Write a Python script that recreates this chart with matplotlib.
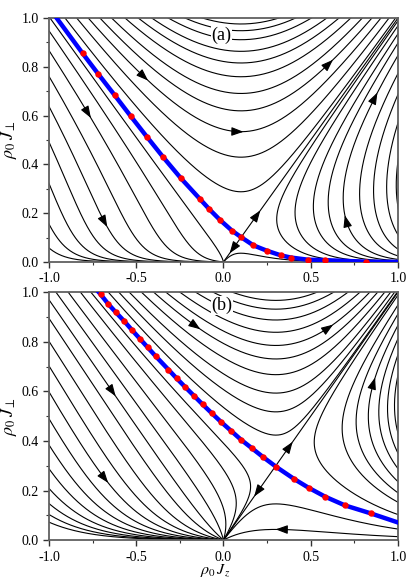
import numpy as np
import matplotlib
matplotlib.use("Agg")
import matplotlib.pyplot as plt
from matplotlib.ticker import MultipleLocator

plt.rcParams["font.family"] = ["Liberation Serif", "DejaVu Serif"]
plt.rcParams["mathtext.fontset"] = "stix"

# RG 方程的参数 (由对角线上不动点的位置读出)
r_a = 0.1
r_b = 0.3

# 蓝线 (分界线) 与红点, 面板 (a)
red_a_x = [-0.807, -0.717, -0.624, -0.532, -0.440, -0.345, -0.244, -0.135, -0.081,
           -0.020, 0.049, 0.102, 0.171, 0.248, 0.328, 0.385, 0.484, 0.583, 0.815]
red_a_y = [0.855, 0.770, 0.684, 0.598, 0.514, 0.429, 0.343, 0.258, 0.216,
           0.172, 0.128, 0.101, 0.068, 0.046, 0.027, 0.018, 0.009, 0.007, 0.001]
blue_a_x = [-0.956] + red_a_x + [1.0]
blue_a_y = [1.0] + red_a_y + [0.0]

# 面板 (b)
red_b_x = [-0.704, -0.660, -0.616, -0.570, -0.524, -0.479, -0.434, -0.389, -0.316,
           -0.268, -0.219, -0.169, -0.119, -0.066, -0.013, 0.043, 0.102, 0.162,
           0.225, 0.301, 0.406, 0.488, 0.583, 0.696, 0.843]
red_b_y = [0.991, 0.952, 0.918, 0.884, 0.847, 0.812, 0.777, 0.742, 0.688,
           0.652, 0.617, 0.582, 0.547, 0.511, 0.476, 0.441, 0.404, 0.371,
           0.336, 0.296, 0.246, 0.211, 0.175, 0.140, 0.108]
blue_b_x = [-0.715] + red_b_x + [1.0]
blue_b_y = [1.0] + red_b_y + [0.071]

# 流线的起点: 上边缘 (J_perp = 1) 的交点, 右侧 U 形线的拐点, 以及其他内部点
top_a = [-1.60, -1.52, -1.44, -1.36, -1.28, -1.20, -1.12, -1.05, -0.994, -0.908,
         -0.841, -0.775, -0.708, -0.641, -0.564, -0.488, -0.411, -0.316, -0.22, -0.12]
nose_a = [0.305, 0.41, 0.515, 0.60, 0.686, 0.78, 0.86, 0.935, 0.99]
inner_a = [(0.12, 0.035)]

top_b = [-1.90, -1.82, -1.74, -1.66, -1.58, -1.50, -1.42, -1.34, -1.26, -1.18,
         -1.10, -1.03, -0.96, -0.89, -0.82, -0.76, -0.66, -0.60, -0.54, -0.47,
         -0.40, -0.33, -0.25, -0.16, -0.06, 0.05]
nose_b = [0.52, 0.68, 0.76, 0.83, 0.89, 0.94, 0.98]
inner_b = [(0.27, 0.145), (0.32, 0.043)]

# 箭头位置
arrows_a = [(-0.456, 0.749), (-0.765, 0.602), (-0.721, 0.145), (0.601, 0.824),
            (0.091, 0.516), (0.874, 0.684), (0.706, 0.179), (0.205, 0.200),
            (0.047, 0.047)]
arrows_b = [(-0.144, 0.860), (-0.603, 0.598), (-0.673, 0.242), (0.597, 0.867),
            (0.862, 0.645), (0.385, 0.385), (0.186, 0.186), (0.324, 0.043)]


def rg_flow(p, r):
    """RG 方程: dJz/dl = -r Jz + Jp^2, dJp/dl = -r Jp + Jz Jp"""
    jz, jp = p
    return np.array([-r * jz + jp ** 2, -r * jp + jz * jp])


def trace(p0, r, sign, ds=0.003, nmax=5000):
    """从 p0 出发沿流 (sign=+1) 或逆流 (sign=-1) 积分"""
    def v(q):
        f = sign * rg_flow(q, r)
        n = np.hypot(f[0], f[1])
        return f / n if n > 1e-12 else f * 0

    p = np.array(p0, float)
    pts = [p.copy()]
    for _ in range(nmax):
        k1 = v(p)
        k2 = v(p + 0.5 * ds * k1)
        k3 = v(p + 0.5 * ds * k2)
        k4 = v(p + ds * k3)
        p = p + ds / 6 * (k1 + 2 * k2 + 2 * k3 + k4)
        pts.append(p.copy())
        if p[0] < -2.5 or p[0] > 1.3 or p[1] < -0.001 or p[1] > 1.3:
            break
        if np.hypot(*p) < 0.002 or np.hypot(p[0] - r, p[1] - r) < 0.002:
            break
    return np.array(pts)


def draw_line(ax, p0, r):
    back = trace(p0, r, -1)[::-1]
    fwd = trace(p0, r, 1)
    pts = np.vstack([back, fwd[1:]])
    ax.plot(pts[:, 0], pts[:, 1], color="k", lw=0.8)
    return pts


def add_arrow(ax, x, y, r, lines):
    """把箭头放到最近的流线上, 方向取流的方向"""
    best = None
    for pts in lines:
        d2 = ((pts[:, 0] - x) / 2.0) ** 2 + (pts[:, 1] - y) ** 2
        i = np.argmin(d2)
        if best is None or d2[i] < best[0]:
            best = (d2[i], pts[i])
    px, py = best[1]
    f = rg_flow((px, py), r)
    d = f / np.hypot(f[0] / 2.0, f[1])
    step = 0.012
    ax.annotate("", xy=(px + step * d[0], py + step * d[1]), xytext=(px, py),
                arrowprops=dict(arrowstyle="-|>,head_length=0.6,head_width=0.22",
                                mutation_scale=12, color="k", lw=0.8,
                                shrinkA=0, shrinkB=0))


def draw_panel(ax, r, tops, noses, inners, bx, by, rx, ry, arrows, label, ly):
    lines = []
    for x0 in tops:
        lines.append(draw_line(ax, (x0, 1.0), r))
    for x0 in noses:
        lines.append(draw_line(ax, (x0, np.sqrt(r * x0)), r))
    for p0 in inners:
        lines.append(draw_line(ax, p0, r))
    # 对角线 (不稳定方向)
    for e in (0.003, -0.003):
        pts = trace((r + e, r + e), r, 1)
        ax.plot(pts[:, 0], pts[:, 1], color="k", lw=0.8)
        lines.append(pts)
    for x, y in arrows:
        add_arrow(ax, x, y, r, lines)

    ax.plot(bx, by, color="#0000ff", lw=3.2, zorder=5)
    ax.plot(rx, ry, "o", color="#ff0000", ms=4.6, mec="none", zorder=6)

    ax.text(-0.01, ly, label, fontsize=13, ha="center", va="center", zorder=7,
            bbox=dict(facecolor="white", edgecolor="none", pad=0.5))

    ax.set_xlim(-1.0, 1.0)
    ax.set_ylim(0.0, 1.0)
    ax.xaxis.set_major_locator(MultipleLocator(0.5))
    ax.xaxis.set_minor_locator(MultipleLocator(0.25))
    ax.yaxis.set_major_locator(MultipleLocator(0.2))
    ax.yaxis.set_minor_locator(MultipleLocator(0.1))
    ax.xaxis.set_major_formatter(plt.FuncFormatter(lambda v, _: f"{v:.1f}"))
    ax.yaxis.set_major_formatter(plt.FuncFormatter(lambda v, _: f"{v:.1f}"))
    ax.tick_params(which="major", direction="out", length=4, width=1.0,
                   labelsize=10, colors="#333333", labelcolor="black")
    ax.tick_params(which="minor", direction="out", length=2.5, width=0.8,
                   colors="#333333")
    for s in ax.spines.values():
        s.set_color("#606060")
        s.set_linewidth(1.3)
    ax.set_ylabel(r"$\rho_0\,J_\perp$", fontsize=13, labelpad=2)


fig = plt.figure(figsize=(4.15, 5.82), dpi=100)
ax_a = fig.add_axes([0.118, 0.550, 0.841, 0.419])
ax_b = fig.add_axes([0.118, 0.072, 0.841, 0.426])

draw_panel(ax_a, r_a, top_a, nose_a, inner_a, blue_a_x, blue_a_y,
           red_a_x, red_a_y, arrows_a, "(a)", 0.93)
draw_panel(ax_b, r_b, top_b, nose_b, inner_b, blue_b_x, blue_b_y,
           red_b_x, red_b_y, arrows_b, "(b)", 0.945)
ax_b.set_xlabel(r"$\rho_0\,J_z$", fontsize=11.5, va="center")
ax_b.xaxis.set_label_coords(0.475, -0.122)

fig.savefig("out.png", dpi=100)
